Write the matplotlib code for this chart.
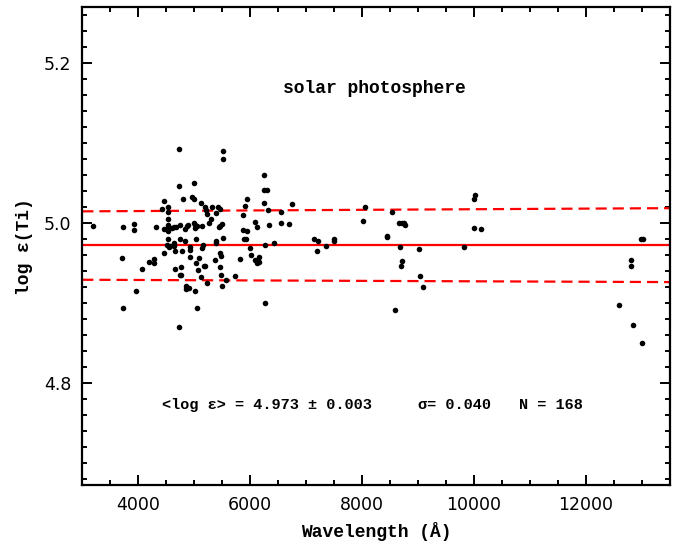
import matplotlib
matplotlib.use("Agg")
import matplotlib.pyplot as plt
from matplotlib.ticker import MultipleLocator

# line data
wavelength = [
    3189, 3725, 3714, 3725, 3921, 3921, 3964, 4059, 4184, 4273,
    4273, 4321, 4421, 4452, 4452, 4457, 4529, 4529, 4529, 4529,
    4529, 4529, 4529, 4511, 4547, 4571, 4595, 4636, 4636, 4648,
    4643, 4679, 4648, 4725, 4720, 4750, 4738, 4755, 4750, 4768,
    4779, 4725, 4804, 4827, 4839, 4868, 4893, 4857, 4857, 4898,
    4916, 4929, 4916, 4952, 4988, 4988, 4993, 5005, 5018, 5036,
    5046, 5023, 5018, 5041, 5059, 5082, 5113, 5118, 5143, 5130,
    5154, 5166, 5189, 5184, 5202, 5220, 5225, 5255, 5291, 5309,
    5362, 5380, 5380, 5386, 5429, 5464, 5440, 5464, 5500, 5505,
    5452, 5470, 5452, 5470, 5493, 5511, 5511, 5564, 5732, 5821,
    5875, 5868, 5911, 5939, 5893, 5929, 5939, 5993, 6011, 6089,
    6113, 6089, 6125, 6148, 6148, 6255, 6243, 6304, 6255, 6309,
    6332, 6268, 6268, 6416, 6554, 6554, 6689, 6750, 7136, 7214,
    7189, 7357, 7493, 7493, 8023, 8059, 8439, 8452, 8541, 8595,
    8666, 8720, 8743, 8768, 8671, 8720, 8689, 9023, 9029, 9089,
    9827, 9993, 10011, 10000, 10118, 12595, 12809, 12804, 12839, 12975,
    13011, 13005,
]
log_eps = [
    4.997, 4.995, 4.957, 4.894, 4.999, 4.992, 4.916, 4.943, 4.952, 4.955,
    4.951, 4.995, 5.018, 5.028, 4.993, 4.963, 5.020, 5.014, 5.005, 4.998,
    4.995, 4.990, 4.980, 4.973, 4.971, 4.972, 4.994, 4.975, 4.972, 4.965,
    4.995, 4.996, 4.943, 5.093, 5.047, 4.998, 4.981, 4.946, 4.936, 4.935,
    4.965, 4.870, 5.031, 4.978, 4.993, 4.997, 4.998, 4.922, 4.918, 4.919,
    4.971, 4.967, 4.958, 5.033, 5.031, 5.051, 5.000, 4.994, 4.998, 4.981,
    4.997, 4.950, 4.915, 4.894, 4.942, 4.957, 5.026, 4.933, 4.997, 4.969,
    4.973, 4.947, 4.947, 5.020, 5.017, 5.012, 4.926, 5.000, 5.005, 5.021,
    4.954, 4.978, 4.976, 5.013, 5.020, 5.018, 4.995, 4.997, 4.999, 4.982,
    4.963, 4.959, 4.945, 4.936, 4.922, 5.091, 5.081, 4.929, 4.934, 4.955,
    5.011, 4.992, 5.022, 5.031, 4.981, 4.981, 4.990, 4.969, 4.960, 5.002,
    4.996, 4.954, 4.951, 4.958, 4.952, 5.060, 5.042, 5.042, 5.025, 5.017,
    4.998, 4.973, 4.901, 4.976, 5.014, 5.001, 4.999, 5.024, 4.980, 4.978,
    4.966, 4.972, 4.980, 4.978, 5.003, 5.021, 4.984, 4.983, 5.014, 4.892,
    5.000, 5.000, 5.000, 4.998, 4.970, 4.953, 4.947, 4.968, 4.934, 4.921,
    4.970, 5.030, 5.036, 4.994, 4.993, 4.898, 4.954, 4.947, 4.873, 4.980,
    4.980, 4.851,
]

# mean line and +/- sigma band (ends at x limits)
line_x = [3000, 13500]
mean_y = [4.973, 4.973]
upper_y = [5.015, 5.019]
lower_y = [4.9295, 4.9266]

label_font = "Liberation Mono"

fig = plt.figure(figsize=(6.83, 5.44), dpi=100)
ax = fig.add_axes([0.1205, 0.1085, 0.8605, 0.878])

ax.plot(line_x, mean_y, color="red", lw=1.6)
ax.plot(line_x, upper_y, color="red", lw=1.6, dashes=(5, 2.7))
ax.plot(line_x, lower_y, color="red", lw=1.6, dashes=(5, 2.7))
ax.scatter(wavelength, log_eps, s=16, color="black", zorder=3, linewidths=0)

ax.set_xlim(3000, 13500)
ax.set_ylim(4.673, 5.27)

ax.xaxis.set_major_locator(MultipleLocator(2000))
ax.xaxis.set_minor_locator(MultipleLocator(500))
ax.yaxis.set_major_locator(MultipleLocator(0.2))
ax.yaxis.set_minor_locator(MultipleLocator(0.02))
ax.yaxis.set_major_formatter(matplotlib.ticker.FormatStrFormatter("%.1f"))

ax.tick_params(which="both", direction="in", top=True, right=True, width=1.4)
ax.tick_params(which="major", length=7, labelsize=12.5, pad=8)
ax.tick_params(which="minor", length=3.5)
for sp in ax.spines.values():
    sp.set_linewidth(1.6)

ax.set_xlabel("Wavelength (Å)", fontfamily=label_font, fontweight="bold", fontsize=13, labelpad=6)
ax.set_ylabel("log ε(Ti)", fontfamily=label_font, fontweight="bold", fontsize=13, labelpad=8)

ax.text(8220, 5.169, "solar photosphere", ha="center", va="center",
        fontfamily=label_font, fontweight="bold", fontsize=13)
ax.text(4420, 4.773, "<log ε> = 4.973 ± 0.003", ha="left", va="center",
        fontfamily=label_font, fontweight="bold", fontsize=11)
ax.text(8990, 4.773, "σ= 0.040", ha="left", va="center",
        fontfamily=label_font, fontweight="bold", fontsize=11)
ax.text(10810, 4.773, "N = 168", ha="left", va="center",
        fontfamily=label_font, fontweight="bold", fontsize=11)

fig.savefig("out.png", dpi=100)
